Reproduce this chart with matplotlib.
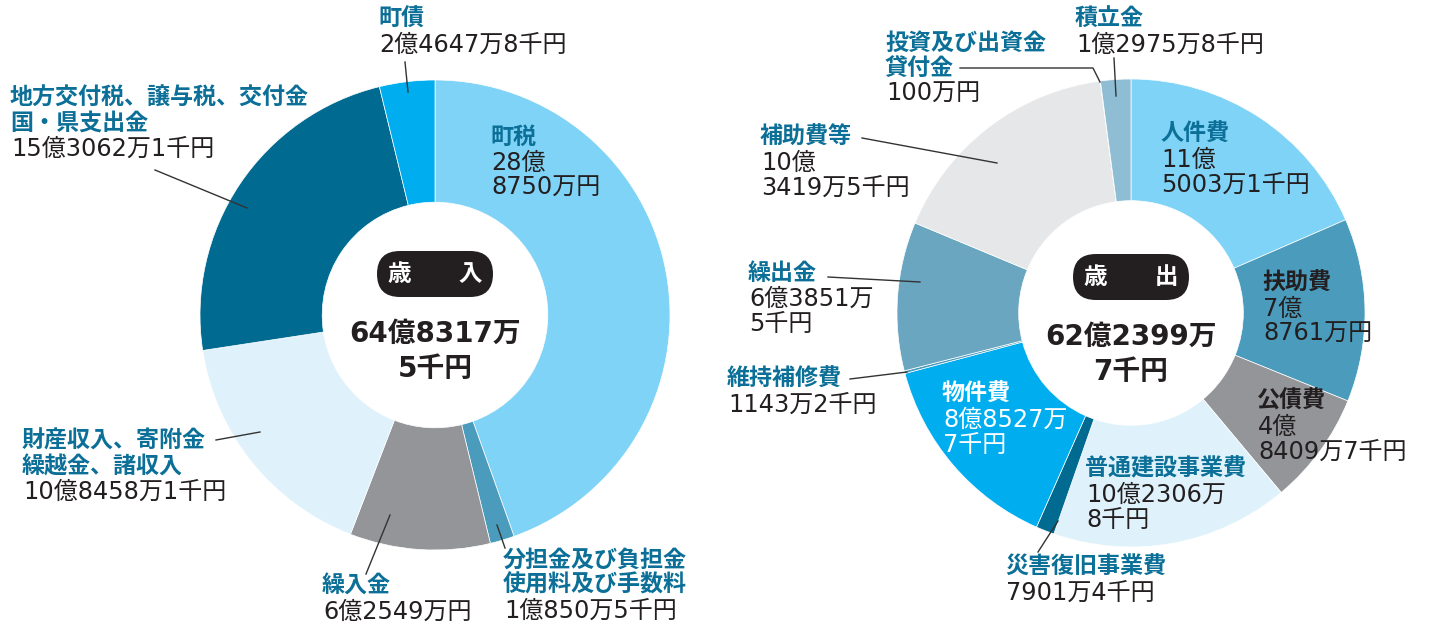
import matplotlib.pyplot as plt
from matplotlib.patches import FancyBboxPatch

plt.rcParams['font.family'] = ['Noto Sans CJK JP', 'DejaVu Sans']

# 歳入 (revenue), clockwise from top, unit: 万円
rev_names = ['町税', '分担金及び負担金\n使用料及び手数料', '繰入金',
             '財産収入、寄附金\n繰越金、諸収入', '地方交付税、譲与税、交付金\n国・県支出金', '町債']
rev_values = [288750.0, 10850.5, 62549.0, 108458.1, 153062.1, 24647.8]
rev_labels = ['28億\n8750万円', '1億850万5千円', '6億2549万円',
              '10億8458万1千円', '15億3062万1千円', '2億4647万8千円']
rev_colors = ['#7fd3f6', '#4b9cbc', '#939598', '#dff2fb', '#006a91', '#00aeef']

# 歳出 (expenditure), clockwise from top
exp_names = ['人件費', '扶助費', '公債費', '普通建設事業費', '災害復旧事業費', '物件費',
             '維持補修費', '繰出金', '補助費等', '投資及び出資金\n貸付金', '積立金']
exp_values = [115003.1, 78761.0, 48409.7, 102306.8, 7901.4, 88527.7,
              1143.2, 63851.5, 103419.5, 100.0, 12975.8]
exp_labels = ['11億\n5003万1千円', '7億\n8761万円', '4億\n8409万7千円', '10億2306万\n8千円',
              '7901万4千円', '8億8527万\n7千円', '1143万2千円', '6億3851万\n5千円',
              '10億\n3419万5千円', '100万円', '1億2975万8千円']
exp_colors = ['#7fd3f6', '#4b9cbc', '#939598', '#dff2fb', '#006a91', '#00aeef',
              '#4b9cbc', '#6aa6c0', '#e6e7e8', '#8fbdd3', '#8fbdd3']

W, H = 1430, 630
TEAL = '#0b6f97'
DARK = '#231f20'
NUMFONT = ['DejaVu Sans', 'Noto Sans CJK JP']

fig = plt.figure(figsize=(W / 100, H / 100), dpi=100)


def donut(cx, cy, r, values, colors):
    s = r * 1.1
    ax = fig.add_axes([(cx - s) / W, (H - cy - s) / H, 2 * s / W, 2 * s / H])
    ax.pie(values, colors=colors, startangle=90, counterclock=False, radius=1,
           wedgeprops=dict(width=0.52, edgecolor='white', linewidth=0.5))
    ax.set_xlim(-1.1, 1.1)
    ax.set_ylim(-1.1, 1.1)
    ax.set_axis_off()


donut(435, 315, 235, rev_values, rev_colors)
donut(1131, 313, 234, exp_values, exp_colors)

# overlay in pixel coordinates for texts and leaders
ov = fig.add_axes([0, 0, 1, 1])
ov.set_xlim(0, W)
ov.set_ylim(H, 0)
ov.set_axis_off()

FS = 16.6


def label(x, y, name, value, ncol=TEAL, vcol=DARK, step=25.5):
    lines = name.split('\n')
    for i, t in enumerate(lines):
        ov.text(x, y + i * step, t, fontsize=FS, fontweight='bold', color=ncol,
                ha='left', va='center')
    for j, t in enumerate(value.split('\n')):
        ov.text(x + 1, y + (len(lines) + j) * step, t, fontsize=17.3, color=vcol,
                family=NUMFONT, ha='left', va='center')


def leader(pts):
    xs, ys = zip(*pts)
    ov.plot(xs, ys, color='#333333', lw=1)


def center(cx, cy, title, total):
    ov.add_patch(FancyBboxPatch((cx - 58, cy - 23), 116, 46,
                                boxstyle='round,pad=0,rounding_size=23',
                                fc='#231f20', ec='none'))
    ov.text(cx, cy, title, fontsize=17, fontweight='bold', color='white',
            ha='center', va='center')
    for i, t in enumerate(total.split('\n')):
        ov.text(cx, cy + 60 + i * 35, t, fontsize=20, fontweight='bold', color=DARK,
                family=NUMFONT, ha='center', va='center')


center(435, 274, '歳\u3000\u3000入', '64億8317万\n5千円')
center(1131, 277, '歳\u3000\u3000出', '62億2399万\n7千円')

# 歳入 labels
label(490, 137, rev_names[0], rev_labels[0])
label(503, 560, rev_names[1], rev_labels[1])
label(322, 586, rev_names[2], rev_labels[2])
label(22, 441, rev_names[3], rev_labels[3])
label(10, 98, rev_names[4], rev_labels[4])
label(378, 19, rev_names[5], rev_labels[5])
leader([(497, 525), (505, 548)])
leader([(390, 515), (366, 574)])
leader([(260, 432), (216, 440)])
leader([(247, 208), (155, 170)])
leader([(405, 62), (408, 92)])

# 歳出 labels
label(1160, 134, exp_names[0], exp_labels[0])
label(1262, 283, exp_names[1], exp_labels[1], ncol=DARK)
label(1257, 401, exp_names[2], exp_labels[2], ncol=DARK)
label(1085, 469, exp_names[3], exp_labels[3])
label(1005, 567, exp_names[4], exp_labels[4])
label(942, 394, exp_names[5], exp_labels[5], ncol='white', vcol='white')
label(727, 379, exp_names[6], exp_labels[6])
label(748, 273, exp_names[7], exp_labels[7])
label(760, 137, exp_names[8], exp_labels[8])
label(885, 43, exp_names[9], exp_labels[9])
label(1075, 19, exp_names[10], exp_labels[10])
leader([(1058, 521), (1038, 552)])
leader([(907, 372), (850, 379)])
leader([(920, 282), (828, 277)])
leader([(997, 163), (862, 138)])
leader([(960, 68), (1093, 68), (1100, 82)])
leader([(1114, 58), (1116, 96)])

fig.savefig('out.png', dpi=100)
